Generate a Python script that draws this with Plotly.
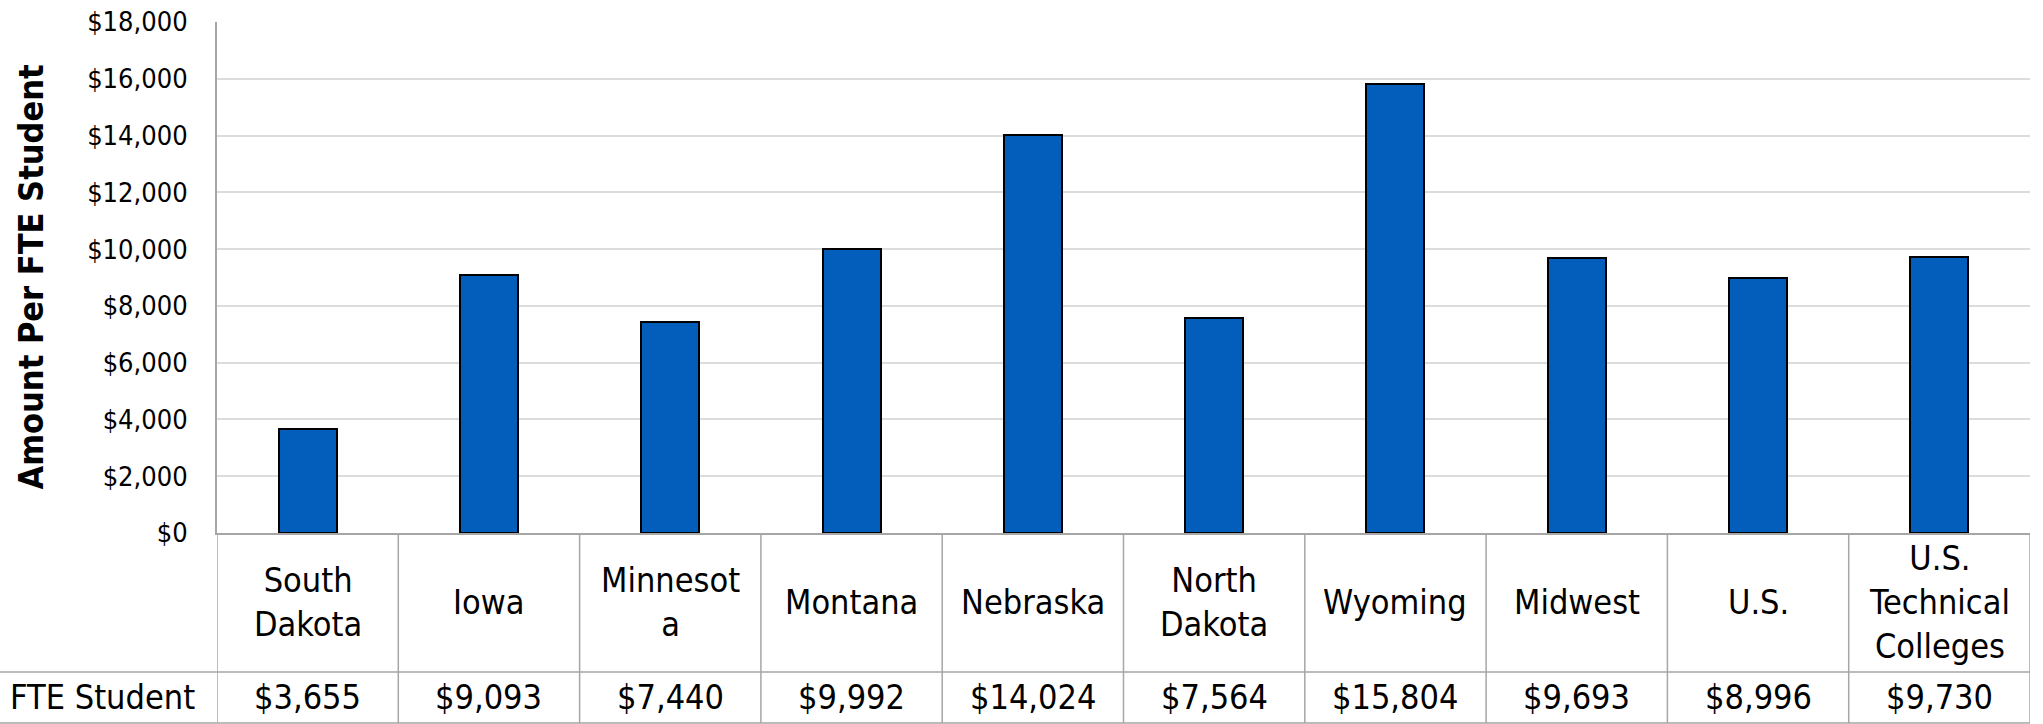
import plotly.graph_objects as go

categories = ["South Dakota", "Iowa", "Minnesota", "Montana", "Nebraska",
              "North Dakota", "Wyoming", "Midwest", "U.S.", "U.S. Technical Colleges"]
table_labels = ["South<br>Dakota", "Iowa", "Minnesot<br>a", "Montana", "Nebraska",
                "North<br>Dakota", "Wyoming", "Midwest", "U.S.", "U.S.<br>Technical<br>Colleges"]
amounts = [3655, 9093, 7440, 9992, 14024, 7564, 15804, 9693, 8996, 9730]
row_label = "FTE Student"
y_title = "Amount Per FTE Student"

font_family = "DejaVu Sans Condensed, Noto Sans, sans-serif"
bar_color = "#035DBA"
line_gray = "#a6a6a6"

W, H = 2043, 724
margin = dict(l=217, r=13, t=22, b=191)
plot_h = H - margin["t"] - margin["b"]
plot_w = W - margin["l"] - margin["r"]

def py(px_from_top):
    # page pixel row -> paper y
    return (H - margin["b"] - px_from_top) / plot_h

idx = list(range(len(categories)))

fig = go.Figure()
fig.add_bar(
    x=idx, y=amounts, width=0.32,
    marker=dict(color=bar_color, line=dict(color="black", width=2)),
    hovertext=categories, showlegend=False,
)

# data table under the chart
shapes = []
table_bottom = py(723)
row_split = py(672)
for i in range(len(categories) + 1):
    shapes.append(dict(type="line", xref="x", yref="paper", x0=i - 0.5, x1=i - 0.5,
                       y0=0, y1=table_bottom, line=dict(color=line_gray, width=1.5)))
left_edge = -margin["l"] / plot_w
for yy in (row_split, table_bottom):
    shapes.append(dict(type="line", xref="paper", yref="paper", x0=left_edge, x1=1,
                       y0=yy, y1=yy, line=dict(color=line_gray, width=1.5)))

annotations = []
for i, (lab, val) in enumerate(zip(table_labels, amounts)):
    annotations.append(dict(x=i, y=py(602), xref="x", yref="paper", text=lab,
                            showarrow=False, yanchor="middle", font=dict(size=34)))
    annotations.append(dict(x=i, y=py(697), xref="x", yref="paper", text=f"${val:,}",
                            showarrow=False, yanchor="middle", font=dict(size=34)))
annotations.append(dict(x=left_edge + 8 / plot_w, y=py(697), xref="paper", yref="paper",
                        text=row_label, showarrow=False, xanchor="left", yanchor="middle",
                        font=dict(size=34)))
annotations.append(dict(x=left_edge + 30 / plot_w, y=0.5, xref="paper", yref="paper",
                        text=f"<b>{y_title}</b>", textangle=-90, showarrow=False,
                        xanchor="center", yanchor="middle", font=dict(size=34)))

fig.update_layout(
    width=W, height=H, margin=margin,
    paper_bgcolor="white", plot_bgcolor="white",
    font=dict(family=font_family, color="black", size=27),
    bargap=0,
    shapes=shapes, annotations=annotations,
    xaxis=dict(range=[-0.5, len(categories) - 0.5], showticklabels=False, showgrid=False,
               showline=True, linecolor=line_gray, linewidth=2, zeroline=False,
               automargin=False),
    yaxis=dict(range=[0, 18000], dtick=2000, tickprefix="$", tickformat=",d",
               showgrid=True, gridcolor="#dcdcdc", gridwidth=2,
               showline=True, linecolor=line_gray, linewidth=2, zeroline=False,
               ticks="", ticklabelstandoff=22, tickfont=dict(size=27),
               ticklabeloverflow="allow", automargin=False),
)

# drop the default body margin so the figure fills the window exactly
fig.write_html("out.html", config={"displayModeBar": False},
               post_script="document.body.style.margin = '0px';")
